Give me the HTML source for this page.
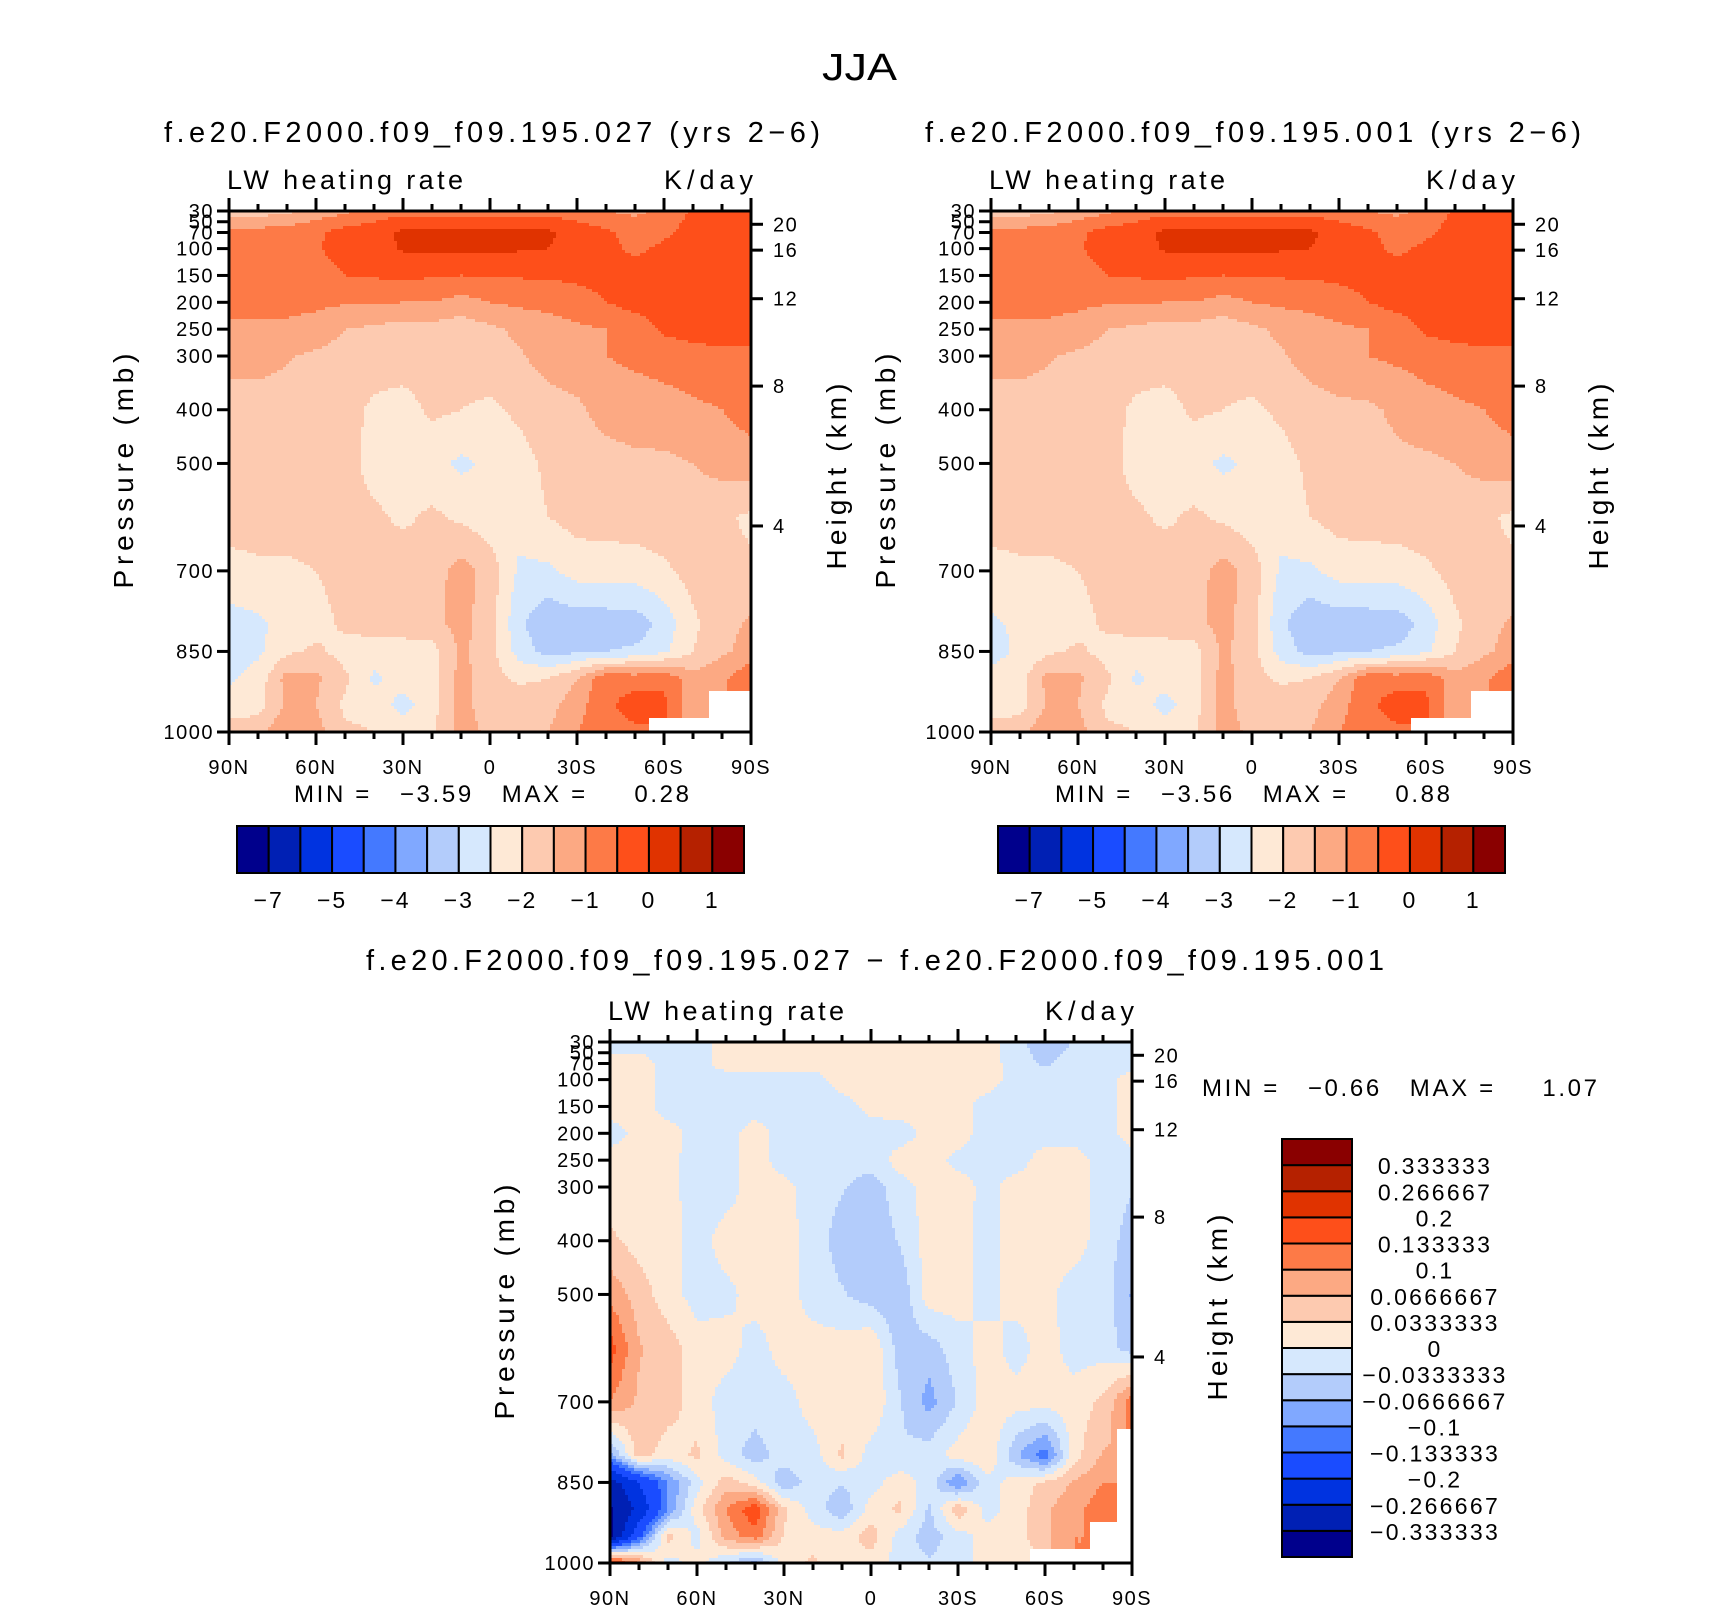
<!DOCTYPE html>
<html><head><meta charset="utf-8">
<style>
html,body{margin:0;padding:0;background:#fff;}
svg{display:block;font-family:"Liberation Sans",sans-serif;}
</style></head>
<body>
<svg id="fig" width="1710" height="1611" viewBox="0 0 1710 1611" xmlns="http://www.w3.org/2000/svg">
<rect x="0" y="0" width="1710" height="1611" fill="#fff"/>
<text x="822" y="80" font-size="38" textLength="75" lengthAdjust="spacingAndGlyphs">JJA</text>
<text x="164" y="142" font-size="29" textLength="656" lengthAdjust="spacing">f.e20.F2000.f09_f09.195.027 (yrs 2−6)</text>
<text x="925" y="142" font-size="29" textLength="656" lengthAdjust="spacing">f.e20.F2000.f09_f09.195.001 (yrs 2−6)</text>
<text x="366" y="970" font-size="29" textLength="1018" lengthAdjust="spacing">f.e20.F2000.f09_f09.195.027 − f.e20.F2000.f09_f09.195.001</text>
<text x="294" y="802" font-size="24" textLength="395" lengthAdjust="spacing" xml:space="preserve">MIN =   −3.59   MAX =     0.28</text>
<text x="1055" y="802" font-size="24" textLength="395" lengthAdjust="spacing" xml:space="preserve">MIN =   −3.56   MAX =     0.88</text>
<text x="1202" y="1096" font-size="24" textLength="395" lengthAdjust="spacing" xml:space="preserve">MIN =   −0.66   MAX =     1.07</text>
<g id="layer"></g>
</svg>
<script>
// ---------- data ----------
const pressureLevels = [30,70,100,150,200,250,300,400,500,600,700,800,850,900,950,1000];
const latLabels = ["90N","60N","30N","0","30S","60S","90S"];
const pressureTicks = [30,50,70,100,150,200,250,300,400,500,700,850,1000];
const heightTicks = [4,8,12,16,20];
const N = NaN;
const fieldA = [
[-1.75,-1.75,-1.6,-1.3,-1.1,-0.8,-0.7,-0.7,-0.7,-0.7,-0.7,-0.7,-0.8,-1.0,-1.1,-0.9,-0.4,-0.3,-0.3],
[-0.8,-0.8,-0.75,-0.6,-0.3,-0.2,0.1,0.15,0.15,0.15,0.15,0.1,-0.2,-0.4,-0.7,-0.6,-0.3,-0.2,-0.2],
[-0.8,-0.8,-0.75,-0.55,-0.3,-0.2,0.05,0.1,0.1,0.1,0.05,0.0,-0.2,-0.35,-0.6,-0.4,-0.2,-0.2,-0.2],
[-0.8,-0.8,-0.8,-0.7,-0.5,-0.45,-0.4,-0.45,-0.5,-0.45,-0.45,-0.45,-0.4,-0.35,-0.3,-0.25,-0.2,-0.2,-0.2],
[-0.8,-0.8,-0.85,-0.9,-0.95,-0.95,-1.0,-1.0,-1.2,-1.0,-0.9,-0.8,-0.7,-0.5,-0.3,-0.25,-0.2,-0.2,-0.2],
[-1.1,-1.1,-1.1,-1.2,-1.5,-1.6,-1.7,-1.7,-1.8,-1.6,-1.4,-1.3,-1.1,-1.0,-0.8,-0.4,-0.3,-0.3,-0.4],
[-1.3,-1.3,-1.45,-1.6,-1.7,-1.75,-1.75,-1.75,-1.75,-1.7,-1.55,-1.3,-1.2,-1.0,-0.9,-0.8,-0.7,-0.6,-0.55],
[-1.75,-1.75,-1.75,-1.75,-1.8,-2.1,-2.2,-1.9,-2.0,-2.1,-1.9,-1.7,-1.6,-1.3,-1.25,-1.2,-1.1,-1.0,-0.8],
[-1.75,-1.75,-1.75,-1.75,-1.8,-2.2,-2.3,-2.35,-2.6,-2.4,-2.2,-1.9,-1.8,-1.7,-1.6,-1.6,-1.5,-1.3,-1.2],
[-1.75,-1.75,-1.75,-1.75,-1.8,-1.9,-2.1,-1.9,-2.1,-2.3,-2.25,-2.0,-1.8,-1.75,-1.75,-1.7,-1.8,-1.9,-2.1],
[-2.2,-2.1,-2.1,-2.0,-1.8,-1.75,-1.7,-1.7,-1.3,-1.7,-2.6,-2.6,-2.3,-2.3,-2.25,-2.1,-1.8,-1.9,-1.9],
[-2.7,-2.6,-2.35,-2.2,-1.9,-1.8,-1.8,-1.7,-1.3,-1.8,-2.9,-3.4,-3.3,-3.3,-3.3,-2.8,-2.1,-1.7,-1.4],
[-2.7,-2.6,-2.1,-1.9,-2.2,-2.25,-2.2,-2.2,-1.4,-1.8,-2.7,-3.2,-3.1,-3.0,-2.9,-2.6,-2.0,-1.6,-1.3],
[-2.6,-2.3,-1.3,-1.4,-1.9,-2.6,-2.25,-2.2,-1.3,-1.8,-2.1,-2.0,-1.5,-0.6,-0.7,-0.6,-1.3,-1.1,-0.6],
[-2.2,-2.2,-1.4,-1.5,-2.1,-2.2,-2.7,-2.2,-1.3,-1.8,-1.7,-1.7,-1.2,-0.6,-0.3,-0.4,-1.3,N,N],
[-1.8,-1.7,-1.0,-1.3,-1.9,-2.0,-2.2,-2.1,-1.3,-1.6,-1.5,-1.5,-1.0,-0.7,-0.6,N,N,N,N]
];
const fieldB = [
[-1.75,-1.75,-1.6,-1.3,-1.1,-0.8,-0.7,-0.7,-0.7,-0.7,-0.7,-0.7,-0.8,-1.0,-1.1,-0.9,-0.4,-0.3,-0.3],
[-0.8,-0.8,-0.75,-0.6,-0.3,-0.2,0.1,0.15,0.15,0.15,0.15,0.1,-0.2,-0.4,-0.7,-0.6,-0.3,-0.2,-0.2],
[-0.8,-0.8,-0.75,-0.55,-0.3,-0.2,0.05,0.1,0.1,0.1,0.05,0.0,-0.2,-0.35,-0.6,-0.4,-0.2,-0.2,-0.2],
[-0.8,-0.8,-0.8,-0.7,-0.5,-0.45,-0.4,-0.45,-0.5,-0.45,-0.45,-0.45,-0.4,-0.35,-0.3,-0.25,-0.2,-0.2,-0.2],
[-0.8,-0.8,-0.85,-0.9,-0.95,-0.95,-1.0,-1.0,-1.2,-1.0,-0.9,-0.8,-0.7,-0.5,-0.3,-0.25,-0.2,-0.2,-0.2],
[-1.1,-1.1,-1.1,-1.2,-1.5,-1.6,-1.7,-1.7,-1.8,-1.6,-1.4,-1.3,-1.1,-1.0,-0.8,-0.4,-0.3,-0.3,-0.4],
[-1.3,-1.3,-1.45,-1.6,-1.7,-1.75,-1.75,-1.75,-1.75,-1.7,-1.55,-1.3,-1.2,-1.0,-0.9,-0.8,-0.7,-0.6,-0.55],
[-1.75,-1.75,-1.75,-1.75,-1.8,-2.1,-2.2,-1.9,-2.0,-2.1,-1.9,-1.7,-1.6,-1.6,-1.4,-1.2,-1.1,-1.0,-0.8],
[-1.75,-1.75,-1.75,-1.75,-1.8,-2.2,-2.3,-2.35,-2.6,-2.4,-2.2,-1.9,-1.8,-1.7,-1.6,-1.6,-1.5,-1.3,-1.2],
[-1.75,-1.75,-1.75,-1.75,-1.8,-1.9,-2.1,-1.9,-2.1,-2.3,-2.25,-2.0,-1.8,-1.75,-1.75,-1.7,-1.8,-1.9,-2.1],
[-2.2,-2.1,-2.1,-2.0,-1.8,-1.75,-1.7,-1.7,-1.3,-1.7,-2.6,-2.6,-2.3,-2.3,-2.25,-2.1,-1.8,-1.9,-1.9],
[-2.6,-2.4,-2.3,-2.2,-1.9,-1.8,-1.8,-1.7,-1.3,-1.8,-2.9,-3.4,-3.3,-3.3,-3.3,-2.8,-2.1,-1.7,-1.4],
[-2.7,-2.4,-2.1,-1.9,-2.2,-2.25,-2.2,-2.2,-1.4,-1.8,-2.7,-3.2,-3.1,-3.0,-2.9,-2.6,-2.0,-1.6,-1.3],
[-2.3,-2.2,-1.3,-1.4,-1.9,-2.6,-2.25,-2.2,-1.3,-1.8,-2.1,-2.0,-1.5,-0.6,-0.7,-0.6,-1.3,-1.1,-0.6],
[-2.2,-2.2,-1.4,-1.5,-2.1,-2.2,-2.7,-2.2,-1.3,-1.8,-1.7,-1.7,-1.2,-0.6,-0.3,-0.4,-1.3,N,N],
[-1.8,-1.7,-1.0,-1.3,-1.9,-2.0,-2.2,-2.1,-1.3,-1.6,-1.5,-1.5,-1.0,-0.7,-0.6,N,N,N,N]
];
const fieldDiff = [
[-.015,-.015,-.015,-.015,.015,.015,.015,.015,.015,.015,.015,.015,.015,.015,-.02,-.06,-.03,-.015,-.015],
[.015,.015,-.015,-.015,.015,.015,.015,.015,.015,.015,.015,.015,.015,.015,-.015,-.04,-.015,-.015,-.015],
[.015,.015,-.015,-.015,-.015,-.015,-.015,-.015,.015,.015,.015,.015,.015,.015,-.015,-.015,-.015,-.015,.015],
[.015,.015,-.015,-.015,-.015,-.015,-.015,-.015,-.015,.01,.015,.015,.015,-.015,-.015,-.015,-.015,-.015,.015],
[-.015,.01,.015,-.015,-.015,.015,-.015,-.015,-.015,-.015,-.015,.01,.015,-.015,-.015,-.015,-.015,-.015,.015],
[.015,.015,.01,-.015,-.015,.015,-.015,-.015,-.015,-.02,.015,.015,-.01,-.015,-.015,.015,.015,-.015,-.015],
[.015,.015,.01,-.015,-.015,.015,.01,-.015,-.03,-.05,-.015,.015,.015,-.01,.015,.015,.015,-.015,-.03],
[.04,.02,.015,-.015,.015,.015,.015,-.015,-.05,-.06,-.03,.015,.015,-.015,.015,.01,.015,-.015,-.05],
[.09,.05,.015,-.015,-.01,.015,.015,-.015,-.03,-.05,-.06,.02,.015,-.015,.015,.01,-.015,-.015,-.07],
[.15,.07,.05,.015,.015,-.015,.015,.015,.015,.03,-.05,-.05,-.015,.015,-.015,.015,-.015,-.015,-.05],
[.1,.06,.05,.015,-.015,-.015,-.015,.015,.015,.03,-.03,-.08,-.03,.015,.015,.015,.015,.04,.12],
[-.08,.05,.015,.04,-.015,-.05,-.015,-.015,.04,-.015,-.03,-.015,.015,.03,-.06,-.12,.02,.07,N],
[-.3,-.2,-.1,-.015,.05,.015,-.06,-.015,-.03,-.015,.02,-.015,-.1,-.015,.015,.04,.07,.1,N],
[-.34,-.25,-.1,.02,.1,.16,.04,-.015,-.06,.015,.04,-.04,.06,-.015,.015,.06,.09,.12,N],
[-.35,-.15,.05,-.015,.08,.12,.03,.015,.015,.05,-.015,-.05,-.015,.015,.015,.06,.1,N,N],
[.2,.1,-.015,.015,-.03,-.08,.015,.04,.015,.02,-.015,-.03,-.015,.015,.015,N,N,N,N]
];
const levelsAbs = [-7,-6,-5,-4.5,-4,-3.5,-3,-2.5,-2,-1.5,-1,-0.5,0,0.5,1];
const absLabels = ["−7","−5","−4","−3","−2","−1","0","1"];
const levelsDiff = [-0.333333,-0.266667,-0.2,-0.133333,-0.1,-0.0666667,-0.0333333,0,0.0333333,0.0666667,0.1,0.133333,0.2,0.266667,0.333333];
const diffLabels = ["−0.333333","−0.266667","−0.2","−0.133333","−0.1","−0.0666667","−0.0333333","0","0.0333333","0.0666667","0.1","0.133333","0.2","0.266667","0.333333"];
const palette = ["#00008c","#0020b4","#0033e0","#1a4cff","#4479ff","#80a8ff","#b3ccfb","#d6e8fd","#fee9d6","#fdcab0","#fca983","#fd7a47","#fe4f1a","#e03300","#b52100","#8a0000"];

// ---------- drawing ----------
const NS = "http://www.w3.org/2000/svg";
const layer = document.getElementById("layer");
function mk(tag, attrs, parent){
  const e = document.createElementNS(NS, tag);
  for (const k in attrs) e.setAttribute(k, attrs[k]);
  (parent||layer).appendChild(e);
  return e;
}
function classOf(v, levels){ let c=0; for(const b of levels){ if(v>=b) c++; } return c; }
function pToY(p, y0, H){ return y0 + (p-30)/970*H; }
function zToP(z){ const m=z*1000; if(m<=11000) return 1013.25*Math.pow(1-2.25577e-5*m,5.2559); return 226.32*Math.exp(-(m-11000)/6341.6); }
function latToX(i, x0, W){ return x0 + i/180*W; }

function sample(field, fi, p){
  let k=0; while(k<pressureLevels.length-2 && p>pressureLevels[k+1]) k++;
  const t=Math.min(1,Math.max(0,(p-pressureLevels[k])/(pressureLevels[k+1]-pressureLevels[k])));
  let i=Math.min(17,Math.floor(fi)); const u=fi-i;
  const c=[[field[k][i],(1-t)*(1-u)],[field[k][i+1],(1-t)*u],[field[k+1][i],t*(1-u)],[field[k+1][i+1],t*u]];
  const nearest = c.reduce((a,b)=>b[1]>a[1]?b:a);
  if (isNaN(nearest[0])) return NaN;
  let s=0,w=0; for(const [v,ww] of c){ if(!isNaN(v)){s+=v*ww;w+=ww;} }
  return s/w;
}

function drawPanel(name, field, levels, x0, y0, W, H){
  const g = mk("g", {});
  
  
  const step=3;
  for (let py=0; py<H; py+=step){
    const h=Math.min(step,H-py);
    const p=30+(py+h/2)/H*970;
    let runStart=0, runCls=null;
    const flush=(end)=>{
      if(runCls!==null && runCls>=0){
        const r=mk("rect",{x:x0+runStart,y:y0+py,width:end-runStart,height:h,fill:palette[runCls]},g);
        
        
      }
    };
    for (let px=0; px<W; px+=step){
      const fi=(px+step/2)/W*18;
      const v=sample(field, fi, p);
      const cls=isNaN(v)?-1:classOf(v,levels);
      if(cls!==runCls){ flush(px); runStart=px; runCls=cls; }
    }
    flush(W);
  }
  const fr=mk("rect",{x:x0,y:y0,width:W,height:H,fill:"none",stroke:"#000","stroke-width":3});
  
  
  for(let d=0; d<=180; d+=10){
    const x=latToX(d,x0,W), L=(d%30===0)?13:7;
    const t1=mk("line",{x1:x,y1:y0+H,x2:x,y2:y0+H+L,stroke:"#000","stroke-width":3});
    
    
    const t2=mk("line",{x1:x,y1:y0,x2:x,y2:y0-L,stroke:"#000","stroke-width":3});
    
    
  }
  latLabels.forEach((s,j)=>{
    const t=mk("text",{x:latToX(j*30,x0,W),y:y0+H+42,"font-size":20,"letter-spacing":1.5,"text-anchor":"middle"});
    t.textContent=s;
    
    
  });
  pressureTicks.forEach(p=>{
    const y=pToY(p,y0,H);
    const tk=mk("line",{x1:x0-12,y1:y,x2:x0,y2:y,stroke:"#000","stroke-width":3});
    
    
    const t=mk("text",{x:x0-15,y:y+7,"font-size":20,"letter-spacing":1.5,"text-anchor":"end"});
    t.textContent=String(p);
    
    
  });
  heightTicks.forEach(z=>{
    const y=pToY(zToP(z),y0,H);
    const tk=mk("line",{x1:x0+W,y1:y,x2:x0+W+12,y2:y,stroke:"#000","stroke-width":3});
    
    
    const t=mk("text",{x:x0+W+22,y:y+7,"font-size":20,"letter-spacing":1.5});
    t.textContent=String(z);
    
    
  });
  const lw=mk("text",{x:x0-2,y:y0-22,"font-size":27,textLength:236,lengthAdjust:"spacing"});
  lw.textContent="LW heating rate";
  
  
  const un=mk("text",{x:x0+W-87,y:y0-22,"font-size":27,textLength:89,lengthAdjust:"spacing"});
  un.textContent="K/day";
  
  
  const yl=mk("text",{x:-117,y:0,"font-size":28,textLength:235,lengthAdjust:"spacing",transform:`translate(${x0-96},${y0+H/2}) rotate(-90)`});
  yl.textContent="Pressure (mb)";
  
  
  const hl=mk("text",{x:-93,y:0,"font-size":28,textLength:186,lengthAdjust:"spacing",transform:`translate(${x0+W+95},${y0+H/2+5}) rotate(-90)`});
  hl.textContent="Height (km)";
  
  
}

function hColorbar(name, x0, y0, W, H){
  const bw=W/16;
  palette.forEach((c,i)=>{
    const r=mk("rect",{x:x0+i*bw,y:y0,width:bw,height:H,fill:c,stroke:"#000","stroke-width":2});
    
    
  });
  const idx=[1,3,5,7,9,11,13,15];
  absLabels.forEach((s,j)=>{
    const t=mk("text",{x:x0+idx[j]*bw,y:y0+H+35,"font-size":23,"letter-spacing":2,"text-anchor":"middle"});
    t.textContent=s;
    
    
  });
}
function vColorbar(name, x0, y0, W, H){
  const bh=H/16;
  palette.forEach((c,i)=>{
    const r=mk("rect",{x:x0,y:y0+(15-i)*bh,width:W,height:bh,fill:c,stroke:"#000","stroke-width":2});
    
    
  });
  diffLabels.forEach((s,j)=>{
    const t=mk("text",{x:x0+W+83,y:y0+(15-j)*bh+9,"font-size":23,"letter-spacing":2.3,"text-anchor":"middle"});
    t.textContent=s;
    
    
  });
}

drawPanel("panel1", fieldA, levelsAbs, 229, 211, 522, 521);
drawPanel("panel2", fieldB, levelsAbs, 991, 211, 522, 521);
drawPanel("panel3", fieldDiff, levelsDiff, 610, 1042, 522, 521);
hColorbar("colorbar1", 237, 826, 507, 47);
hColorbar("colorbar2", 998, 826, 507, 47);
vColorbar("colorbar3", 1282, 1139, 70, 418);
</script>
</body></html>
